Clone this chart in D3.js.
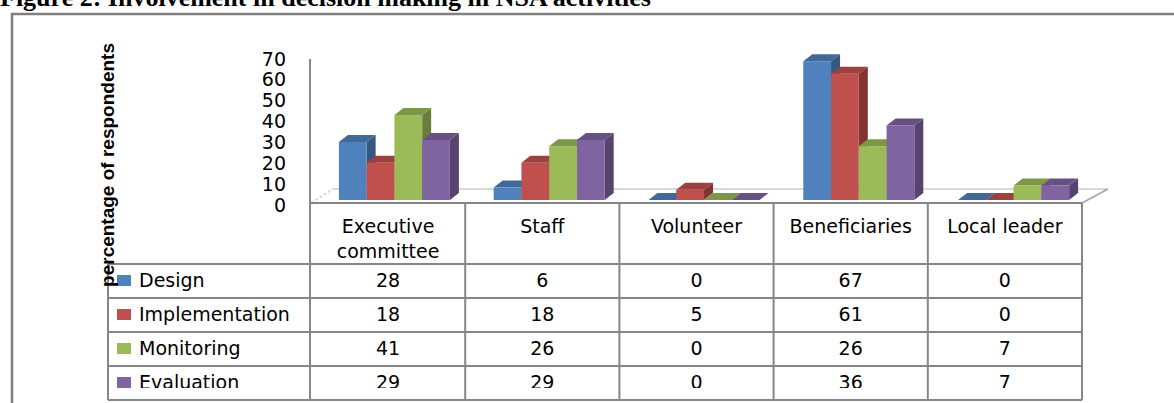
<!DOCTYPE html>
<html lang="en">
<head>
  <meta charset="UTF-8">
  <title>Figure 2: Involvement in decision making in NSA activities</title>
  <style>
    body { margin: 0; background: #fff; }
    svg { display: block; }
    .tick text, .cell, .cat, .leg { font-family: "DejaVu Sans", sans-serif; font-size: 19px; fill: #000; }
    .grid { stroke: #868686; stroke-width: 2; fill: none; }
  </style>
  <script src="https://d3js.org/d3.v7.min.js"></script>
</head>
<body>
<div id="chart"></div>
<script>
  // data
  var categories = ["Executive committee", "Staff", "Volunteer", "Beneficiaries", "Local leader"];
  var seriesNames = ["Design", "Implementation", "Monitoring", "Evaluation"];
  var design = [28, 6, 0, 67, 0];
  var implementation = [18, 18, 5, 61, 0];
  var monitoring = [41, 26, 0, 26, 7];
  var evaluation = [29, 29, 0, 36, 7];
  var seriesColors = ["#4f81bd", "#c0504d", "#9bbb59", "#8064a2"];
  var yTicks = [0, 10, 20, 30, 40, 50, 60, 70];

  var seriesValues = [design, implementation, monitoring, evaluation];

  var width = 1174, height = 403;
  var svg = d3.select("#chart").append("svg")
    .attr("width", width)
    .attr("height", height);

  // outer frame of the figure (right side runs off the picture)
  svg.append("path")
    .attr("d", "M12,403V14H1190")
    .attr("fill", "none")
    .attr("stroke", "#808080")
    .attr("stroke-width", 2.5);

  // title, cut off at the top edge as in the scan
  svg.append("text")
    .attr("x", 0)
    .attr("y", 6)
    .style("font-family", "'Liberation Serif', serif")
    .style("font-weight", "bold")
    .style("font-size", "26px")
    .text("Figure 2: Involvement in decision making in NSA activities");

  // scales
  var floorY = 203, depthX = 9, depthY = -7;
  var x = d3.scaleBand().domain(categories).range([311, 1082]);          // table columns
  var xBar = d3.scaleBand().domain(categories).range([317, 1091]);       // bar groups (perspective shift)
  var xInner = d3.scaleBand().domain(seriesNames).range([0, 111]);
  var y = d3.scaleLinear().domain([0, 70]).range([200, 55]);
  var yAxisScale = d3.scaleLinear().domain([0, 70]).range([205, 59]);

  // y axis labels
  var yAxis = svg.append("g")
    .attr("transform", "translate(286,0)")
    .call(d3.axisLeft(yAxisScale).tickValues(yTicks).tickSize(0).tickPadding(0));
  yAxis.select(".domain").remove();

  // floor of the 3d plot
  var floor = svg.append("g");
  floor.append("line")
    .attr("x1", 311 + 22).attr("x2", 1082 + 26)
    .attr("y1", floorY - 14).attr("y2", floorY - 14)
    .attr("stroke", "#d9d9d9").attr("stroke-width", 2);
  floor.append("line")
    .attr("x1", 311).attr("y1", floorY).attr("x2", 333).attr("y2", floorY - 14)
    .attr("stroke", "#d0d0d0").attr("stroke-width", 1.5).attr("stroke-dasharray", "3,2");
  floor.append("line")
    .attr("x1", 1082).attr("y1", floorY).attr("x2", 1108).attr("y2", floorY - 14)
    .attr("stroke", "#a6a6a6").attr("stroke-width", 1.5);

  // 3d bars
  var bars = svg.append("g");
  categories.forEach(function (cat, ci) {
    seriesNames.forEach(function (s, si) {
      var v = seriesValues[si][ci];
      var x0 = xBar(cat) + xBar.bandwidth() / 2 - 111 / 2 + xInner(s);
      var x1 = x0 + xInner.bandwidth();
      var yt = y(v), yb = y(0);
      var c = d3.color(seriesColors[si]);
      // side face
      bars.append("path")
        .attr("d", "M" + x1 + "," + yt + "L" + (x1 + depthX) + "," + (yt + depthY) +
          "L" + (x1 + depthX) + "," + (yb + depthY) + "L" + x1 + "," + yb + "Z")
        .attr("fill", c.darker(1.1));
      // top face
      bars.append("path")
        .attr("d", "M" + x0 + "," + yt + "L" + (x0 + depthX) + "," + (yt + depthY) +
          "L" + (x1 + depthX) + "," + (yt + depthY) + "L" + x1 + "," + yt + "Z")
        .attr("fill", c.darker(0.6));
      // front face
      bars.append("rect")
        .attr("x", x0)
        .attr("y", yt)
        .attr("width", xInner.bandwidth())
        .attr("height", yb - yt)
        .attr("fill", c);
    });
  });

  // data table
  var rowTop = 264, rowH = 34, labelLeft = 108;
  var table = svg.append("g");
  var rowsY = d3.range(seriesNames.length + 1).map(function (i) { return rowTop + i * rowH; });
  var tableBottom = rowsY[rowsY.length - 1];

  table.append("line").attr("class", "grid")
    .attr("x1", x.range()[0]).attr("x2", x.range()[1]).attr("y1", floorY).attr("y2", floorY);
  rowsY.forEach(function (ry) {
    table.append("line").attr("class", "grid")
      .attr("x1", labelLeft).attr("x2", x.range()[1]).attr("y1", ry).attr("y2", ry);
  });
  table.append("line").attr("class", "grid")
    .attr("x1", labelLeft).attr("x2", labelLeft).attr("y1", rowTop).attr("y2", tableBottom);
  // value axis line continues down as the first column border
  table.append("line").attr("class", "grid")
    .attr("x1", 310).attr("x2", 310).attr("y1", 59).attr("y2", tableBottom);
  categories.forEach(function (cat) {
    table.append("line").attr("class", "grid")
      .attr("x1", x(cat) + x.bandwidth()).attr("x2", x(cat) + x.bandwidth())
      .attr("y1", floorY).attr("y2", tableBottom);
  });

  // category header labels (wrapped)
  categories.forEach(function (cat) {
    var t = table.append("text").attr("class", "cat")
      .attr("text-anchor", "middle")
      .attr("x", x(cat) + x.bandwidth() / 2)
      .attr("y", 233)
      .text(cat);
    if (t.node().getComputedTextLength() > x.bandwidth() - 12) {
      var words = cat.split(" ");
      t.text(null);
      words.forEach(function (w, i) {
        t.append("tspan")
          .attr("x", x(cat) + x.bandwidth() / 2)
          .attr("dy", i === 0 ? 0 : 25)
          .text(w);
      });
    }
  });

  // last row is cut in the original scan
  svg.append("clipPath").attr("id", "cut")
    .append("rect").attr("x", 0).attr("y", 0).attr("width", width).attr("height", 388);

  seriesNames.forEach(function (s, si) {
    var ry = rowsY[si];
    var row = table.append("g");
    if (si === seriesNames.length - 1) row.attr("clip-path", "url(#cut)");
    row.append("rect")
      .attr("x", 117).attr("y", ry + rowH / 2 - 6)
      .attr("width", 14).attr("height", 11)
      .attr("fill", seriesColors[si]);
    row.append("text").attr("class", "leg")
      .attr("x", 139).attr("y", ry + rowH / 2 + 6)
      .text(s);
    categories.forEach(function (cat, ci) {
      row.append("text").attr("class", "cell")
        .attr("text-anchor", "middle")
        .attr("x", x(cat) + x.bandwidth() / 2)
        .attr("y", ry + rowH / 2 + 6)
        .text(seriesValues[si][ci]);
    });
  });

  // y axis title, drawn over the legend like in the original
  svg.append("text")
    .attr("transform", "translate(114,165) rotate(-90)")
    .attr("text-anchor", "middle")
    .style("font-family", "'Liberation Sans', Arial, sans-serif")
    .style("font-weight", "bold")
    .style("font-size", "19px")
    .text("percentage of respondents");
</script>
</body>
</html>
